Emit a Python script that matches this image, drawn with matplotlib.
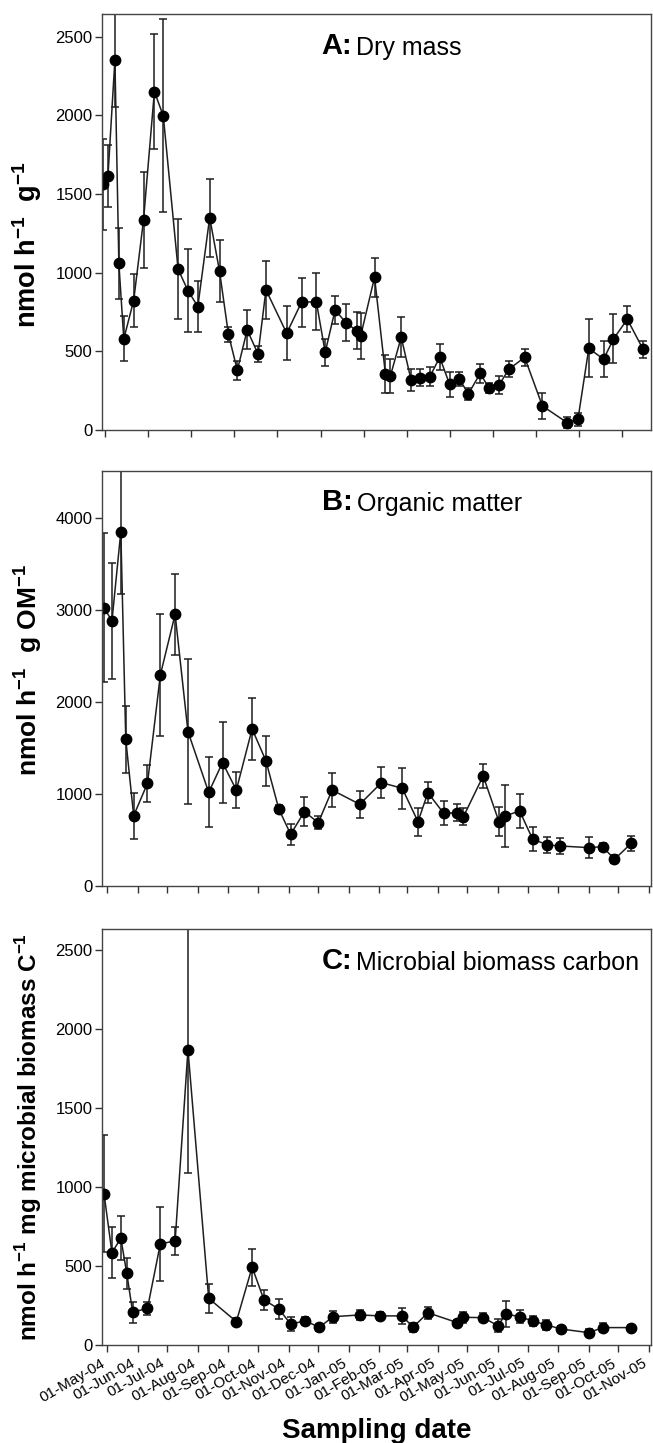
import numpy as np
import pandas as pd
import matplotlib
matplotlib.use('Agg')
import matplotlib.pyplot as plt
import matplotlib.dates as mdates

plt.rcParams['font.family'] = ['Liberation Sans', 'DejaVu Sans']
plt.rcParams['mathtext.fontset'] = 'custom'
plt.rcParams['mathtext.rm'] = 'Liberation Sans'
plt.rcParams['mathtext.bf'] = 'Liberation Sans:bold'

start_date = pd.Timestamp('2004-05-01')

# Panel A: dry mass (days after 01-May-04, mean, SE)
a_days = [-4, 1, 8, 12, 17, 27, 37, 48, 57, 72, 82, 92, 104, 114, 123, 132, 142, 153, 161, 182,
          197, 212, 221, 231, 242, 253, 257, 271, 282, 287, 298, 308, 317, 327, 337, 347, 357, 366,
          378, 387, 397, 407, 423, 441, 466, 477, 488, 503, 513, 527, 543]
a_vals = [1563, 1618, 2354, 1060, 579, 823, 1336, 2152, 1997, 1022, 886, 785, 1351, 1009, 608, 380,
          636, 483, 891, 615, 812, 816, 494, 763, 683, 630, 600, 971, 356, 343, 590, 318, 333, 339,
          462, 291, 324, 229, 360, 265, 286, 386, 462, 153, 47, 68, 519, 450, 579, 704, 513]
a_se = [289, 197, 301, 224, 143, 171, 307, 363, 614, 318, 262, 161, 248, 196, 50, 59, 124, 50, 183,
        172, 157, 181, 87, 87, 116, 118, 147, 124, 120, 109, 126, 68, 56, 62, 83, 79, 43, 37, 62, 32,
        57, 50, 52, 84, 35, 43, 185, 115, 156, 82, 56]

# Panel B: organic matter
b_days = [-3, 5, 14, 19, 27, 41, 54, 69, 82, 103, 117, 131, 147, 161, 174, 186, 200, 214, 228, 256,
          278, 299, 315, 325, 341, 355, 361, 381, 397, 403, 418, 431, 446, 459, 488, 502, 514, 531]
b_vals = [3025, 2880, 3851, 1594, 764, 1116, 2293, 2953, 1678, 1018, 1341, 1043, 1707, 1359, 837, 562,
          808, 688, 1043, 888, 1123, 1062, 699, 1014, 790, 797, 753, 1196, 699, 761, 815, 511, 446,
          435, 417, 428, 290, 464]
b_se = [810, 634, 680, 366, 250, 203, 664, 440, 785, 381, 440, 196, 339, 272, 45, 114, 154, 69, 187,
        149, 167, 221, 151, 114, 132, 91, 91, 132, 158, 336, 187, 131, 82, 82, 118, 44, 42, 80]

# Panel C: microbial biomass carbon
c_days = [-3, 5, 14, 20, 26, 41, 54, 69, 82, 103, 131, 147, 159, 174, 186, 201, 215, 229, 256, 277,
          299, 310, 325, 355, 361, 381, 396, 404, 418, 431, 445, 460, 488, 502, 531]
c_vals = [956, 584, 675, 454, 207, 232, 639, 658, 1867, 295, 148, 492, 285, 228, 133, 152, 112, 179,
          190, 184, 184, 112, 204, 141, 175, 173, 122, 196, 179, 152, 127, 101, 78, 110, 110]
c_se = [371, 160, 140, 99, 65, 42, 232, 88, 780, 92, 21, 116, 64, 62, 42, 24, 21, 37, 34, 27, 50, 30,
        37, 19, 35, 28, 40, 85, 43, 34, 30, 19, 21, 27, 15]

panel_letters = ['A:', 'B:', 'C:']
panel_names = ['Dry mass', 'Organic matter', 'Microbial biomass carbon']
y_labels = [r'nmol h$^{\mathbf{-1}}$  g$^{\mathbf{-1}}$',
            r'nmol h$^{\mathbf{-1}}$  g OM$^{\mathbf{-1}}$',
            r'nmol h$^{\mathbf{-1}}$ mg microbial biomass C$^{\mathbf{-1}}$']
y_label_sizes = [19.5, 19, 17.5]
y_label_pos = [0.445, 0.52, 0.5]
y_ticks = [np.arange(0, 2501, 500), np.arange(0, 4001, 1000), np.arange(0, 2501, 500)]
y_tops = [2645, 4510, 2630]
x_label = 'Sampling date'

def to_dates(days):
    return start_date + pd.to_timedelta(days, unit='D')

fig = plt.figure(figsize=(6.53, 14.43), dpi=100)
W, H = 653.0, 1443.0
left, right = 102, 651
boxes = [(14, 430), (471, 886), (929, 1345)]
axes = []
for top, bot in boxes:
    ax = fig.add_axes([left / W, 1 - bot / H, (right - left) / W, (bot - top) / H])
    axes.append(ax)

xlim = (start_date - pd.Timedelta(days=5.07), start_date + pd.Timedelta(days=551.0))
month_ticks = pd.date_range('2004-05-01', '2005-11-01', freq='MS')
a_ticks = [start_date + pd.Timedelta(days=-2 + 43.66 * i) for i in range(13)]

data = [(a_days, a_vals, a_se), (b_days, b_vals, b_se), (c_days, c_vals, c_se)]
line_col = '#1e1e1e'
for i, ax in enumerate(axes):
    d, v, s = data[i]
    ax.errorbar(to_dates(d), v, yerr=s, fmt='-o', color=line_col, ecolor=line_col,
                mfc='black', mec='black', ms=7.5, lw=1.1, elinewidth=1.1, capsize=3, capthick=1.1)
    ax.set_xlim(xlim)
    ax.set_ylim(0, y_tops[i])
    ax.set_yticks(y_ticks[i])
    if i == 0:
        ax.set_xticks(a_ticks)
    else:
        ax.set_xticks(month_ticks)
    ax.xaxis.set_major_formatter(mdates.DateFormatter('%d-%b-%y'))
    if i < 2:
        ax.tick_params(axis='x', labelbottom=False)
    ax.tick_params(direction='out', length=5, width=1, color='#333333', labelsize=12, pad=2)
    ax.tick_params(axis='x', labelsize=11, pad=3)
    for sp in ax.spines.values():
        sp.set_color('#444444')
        sp.set_linewidth(1.0)
    ax.set_ylabel(y_labels[i], fontsize=y_label_sizes[i], fontweight='bold')
    ax.yaxis.set_label_coords(-0.105, y_label_pos[i])
    t1 = ax.text(0.400, 0.905, panel_letters[i], transform=ax.transAxes, fontsize=21,
                 fontweight='bold', va='baseline', ha='left')
    ax.annotate(panel_names[i], xy=(1, 0), xycoords=t1, xytext=(3, 0),
                textcoords='offset points', va='bottom', ha='left', fontsize=18)

for lab in axes[2].get_xticklabels():
    lab.set_rotation(30)
    lab.set_ha('right')

fig.text((left + right) / 2 / W, 1 - 1438 / H, x_label, ha='center', va='baseline',
         fontsize=20, fontweight='bold')

fig.savefig('out.png', dpi=100)
